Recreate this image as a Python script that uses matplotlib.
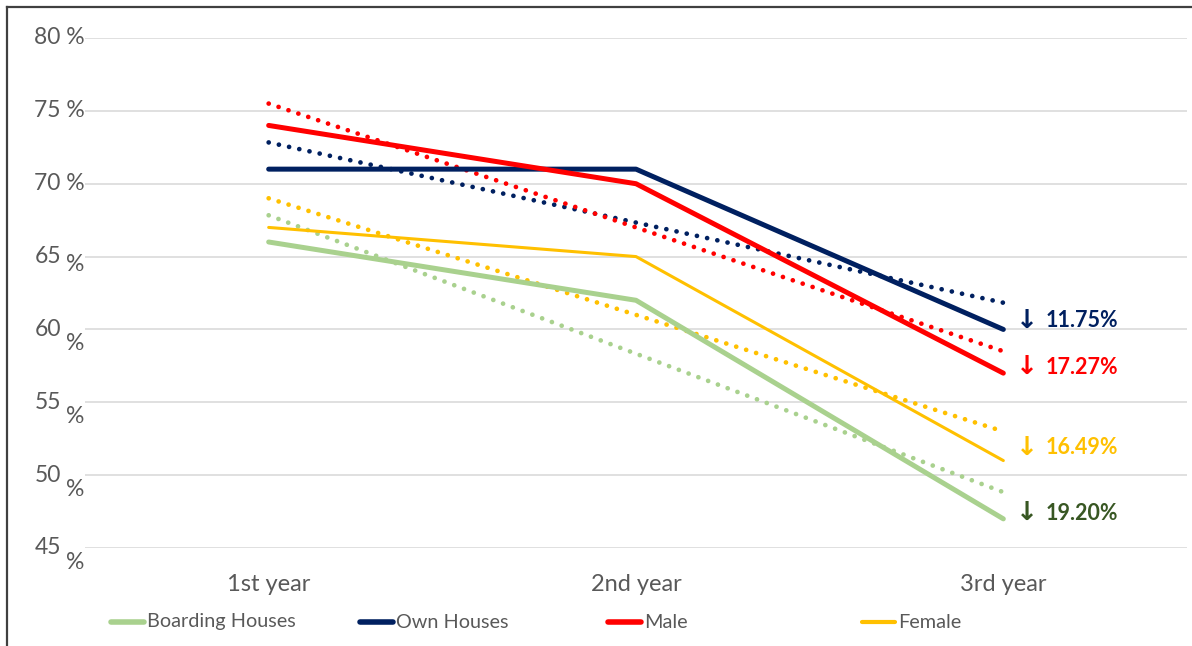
import numpy as np
import matplotlib
matplotlib.use("Agg")
import matplotlib.pyplot as plt
from matplotlib.lines import Line2D

plt.rcParams['font.family'] = ['Lato', 'DejaVu Sans']

categories = ["1st year", "2nd year", "3rd year"]
boarding = [66, 62, 47]
own = [71, 71, 60]
male = [74, 70, 57]
female = [67, 65, 51]
series_names = ["Boarding Houses", "Own Houses", "Male", "Female"]
drops = ["11.75%", "17.27%", "16.49%", "19.20%"]
drop_y = [60.6, 57.4, 51.9, 47.4]
yticks = [45, 50, 55, 60, 65, 70, 75, 80]

c_board = "#A9D18E"
c_own = "#002060"
c_male = "#FF0000"
c_fem = "#FFC000"
gray = "#595959"

fig = plt.figure(figsize=(11.92, 6.46), dpi=100)
ax = fig.add_axes([85/1192, 1-548/646, (1187-85)/1192, (548-38)/646])

x = np.arange(1, 4)
series = [(boarding, c_board, 3.6), (own, c_own, 3.6), (male, c_male, 3.6), (female, c_fem, 2.2)]

# trendlines
for vals, col, lw in series:
    k, b = np.polyfit(x, vals, 1)
    ax.plot(x, k*x + b, color=col, lw=3.4, linestyle=(0, (0.01, 2.2)),
            dash_capstyle='round', solid_capstyle='round', zorder=2)
for vals, col, lw in series:
    ax.plot(x, vals, color=col, lw=lw, solid_capstyle='round', zorder=3)

ax.set_xlim(0.5, 3.5)
ax.set_ylim(45, 80)
ax.set_yticks(yticks)
ax.set_yticklabels([])
ax.tick_params(axis='y', length=0)
ax.grid(axis='y', color="#DDDDDD", lw=1.3)
ax.set_axisbelow(True)
for s in ax.spines.values():
    s.set_visible(False)
ax.set_xticks(x)
ax.set_xticklabels(categories, fontsize=17, color=gray)
ax.tick_params(axis='x', length=0, pad=19)

# y tick labels (Excel-like wrapping)
tr = ax.get_yaxis_transform()
for v in yticks:
    if v >= 70:
        ax.text(-0.0005, v, f"{v} %", transform=tr, ha='right', va='center',
                fontsize=16.5, color=gray)
    else:
        off = 0.55 if v == 65 else 0.97
        ax.text(-0.0215, v, f"{v}", transform=tr, ha='right', va='center',
                fontsize=16.5, color=gray)
        ax.text(-0.0005, v - off, "%", transform=tr, ha='right', va='center',
                fontsize=16.5, color=gray)

# drop annotations
drop_cols = [c_own, c_male, c_fem, "#385723"]
for txt, yv, col in zip(drops, drop_y, drop_cols):
    ax.text(3.033, yv, "\u2193", ha='left', va='center', fontsize=19,
            family='DejaVu Sans', fontweight='bold', color=col, clip_on=False)
    ax.text(3.116, yv, txt, ha='left', va='center', fontsize=15.5,
            fontweight='bold', color=col, clip_on=False)

# legend (manual placement)
leg_x = [111, 360, 608, 862]
ly = 1 - 622/646
for name, (vals, col, lw), lx in zip(series_names, series, leg_x):
    fig.add_artist(Line2D([lx/1192, (lx+33)/1192], [ly, ly], color=col,
                          lw=4 if lw > 3 else 3, solid_capstyle='round'))
    fig.text((lx+36)/1192, ly, name, ha='left', va='center', fontsize=14.3, color=gray)

# border lines
fig.add_artist(Line2D([7/1192, 1], [1-7/646, 1-7/646], color="#404040", lw=1.6))
fig.add_artist(Line2D([7/1192, 7/1192], [0, 1-7/646], color="#404040", lw=1.6))

fig.savefig("out.png", dpi=100)
